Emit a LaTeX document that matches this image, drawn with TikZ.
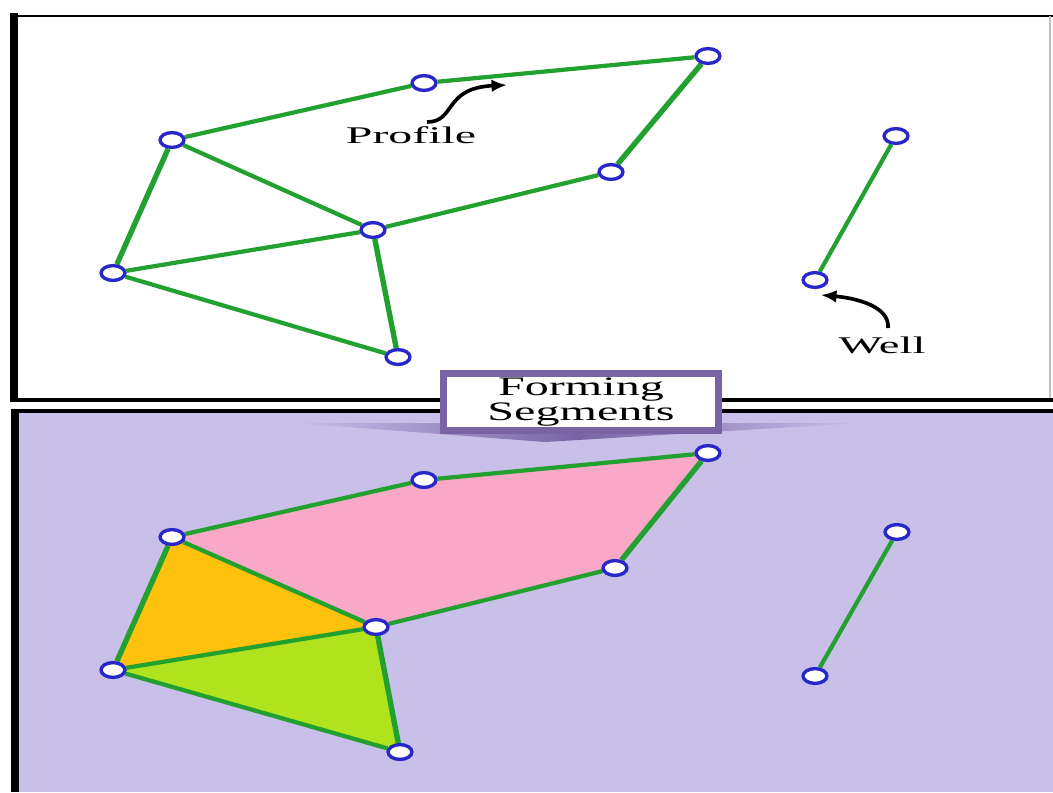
\documentclass[tikz,border=0pt]{standalone}
\usepackage{fontspec}
\setmainfont{Liberation Serif}
\usetikzlibrary{positioning,arrows.meta,shapes.geometric,backgrounds}
\definecolor{lav}{RGB}{200,192,232}
\definecolor{segpink}{RGB}{250,168,200}
\definecolor{segorange}{RGB}{254,194,14}
\definecolor{seglime}{RGB}{176,226,30}
\definecolor{linegreen}{RGB}{34,160,48}
\definecolor{ringblue}{RGB}{40,40,200}
\definecolor{banner}{RGB}{120,100,165}
\newcommand{\wide}[2]{\scalebox{#1}[1]{#2}}

\begin{document}
\begin{tikzpicture}[x=0.025cm, y=-0.025cm, >=Latex,
    pt/.style={ellipse, draw=ringblue, fill=white, line width=2.4pt, minimum width=17pt, minimum height=10.5pt, inner sep=0pt},
    seg/.style={draw=linegreen, line width=3pt},
    segthick/.style={draw=linegreen, line width=3.8pt},
    lbl/.style={font=\fontsize{17}{17}\selectfont, inner sep=0pt}]
      \useasboundingbox (0,0) rectangle (1053,792);
      % frames
      \draw[line width=2.1pt] (10,16) -- (1053,16);
      \draw[line width=5.7pt] (14,13) -- (14,400);
      \draw[gray!50, line width=0.8pt] (1050,16) -- (1050,398);
      \draw[line width=3.5pt] (10,400) -- (1053,400);
      \draw[line width=2.8pt] (11,411) -- (1053,411);
      \draw[line width=5.7pt] (15,410) -- (15,792);
      % upper panel
      \node[pt] (p1) at (172,140) {};
      \node[pt] (p2) at (424,83) {};
      \node[pt] (p3) at (708,56) {};
      \node[pt] (p4) at (611,172) {};
      \node[pt] (p5) at (373,230) {};
      \node[pt] (p6) at (113,273) {};
      \node[pt] (p7) at (398,357) {};
      \node[pt] (w1) at (896,136) {};
      \node[pt] (w2) at (815,280) {};
      % lower panel
      \node[pt] (q1) at (172,537) {};
      \node[pt] (q2) at (424,480) {};
      \node[pt] (q3) at (708,453) {};
      \node[pt] (q4) at (615,568) {};
      \node[pt] (q5) at (376,627) {};
      \node[pt] (q6) at (113,670) {};
      \node[pt] (q7) at (400,752) {};
      \node[pt] (v1) at (897,532) {};
      \node[pt] (v2) at (815,676) {};
      \begin{scope}[on background layer]
        \fill[lav] (19,413) rectangle (1053,792);
        \fill[segpink] (q1.center) -- (q2.center) -- (q3.center) -- (q4.center) -- (q5.center) -- cycle;
        \fill[segorange] (q1.center) -- (q5.center) -- (q6.center) -- cycle;
        \fill[seglime] (q6.center) -- (q5.center) -- (q7.center) -- cycle;
        \draw[seg] (p1) -- (p2) -- (p3);
        \draw[seg] (p4) -- (p5) -- (p1);
        \draw[seg] (p6) -- (p5);
        \draw[seg] (p6) -- (p7);
        \draw[seg] (w1) -- (w2);
        \draw[segthick] (p1) -- (p6);
        \draw[segthick] (p3) -- (p4);
        \draw[segthick] (p5) -- (p7);
        \draw[seg] (q1) -- (q2) -- (q3);
        \draw[seg] (q4) -- (q5) -- (q1);
        \draw[seg] (q6) -- (q5);
        \draw[seg] (q6) -- (q7);
        \draw[seg] (v1) -- (v2);
        \draw[segthick] (q1) -- (q6);
        \draw[segthick] (q3) -- (q4);
        \draw[segthick] (q5) -- (q7);
      \end{scope}
      % labels
      \node[lbl] (prof) at (411,135) {\wide{2.0}{Profile}};
      \node[lbl] (well) at (882,345) {\wide{1.95}{Well}};
      \coordinate (proftail) at (427,122);
      \coordinate (profhead) at (507,85);
      \coordinate (welltail) at (888,328);
      \coordinate (wellhead) at (821,295);
      \draw[->, line width=2.6pt, >={Latex[length=11pt,width=9pt]}] (proftail) .. controls (456,122) and (443,88) .. (profhead);
      \draw[->, line width=2.6pt, >={Latex[length=11pt,width=9pt]}] (welltail) .. controls (890,306) and (855,298) .. (wellhead);
      % banner
      \coordinate (bandl) at (295,423);
      \coordinate (bandr) at (860,423);
      \coordinate (bandtip) at (545,442);
      \shade[left color=lav, right color=lav, middle color=banner] (bandl) -- (bandr) -- (bandtip) -- cycle;
      \node[draw=banner, fill=white, line width=5pt, minimum width=195pt, minimum height=40pt,
        align=center, font=\fontsize{19}{14}\selectfont, inner sep=0pt] (form) at (581,402)
        {\wide{1.8}{Forming}\\\wide{1.8}{Segments}};
    \end{tikzpicture}
\end{document}
